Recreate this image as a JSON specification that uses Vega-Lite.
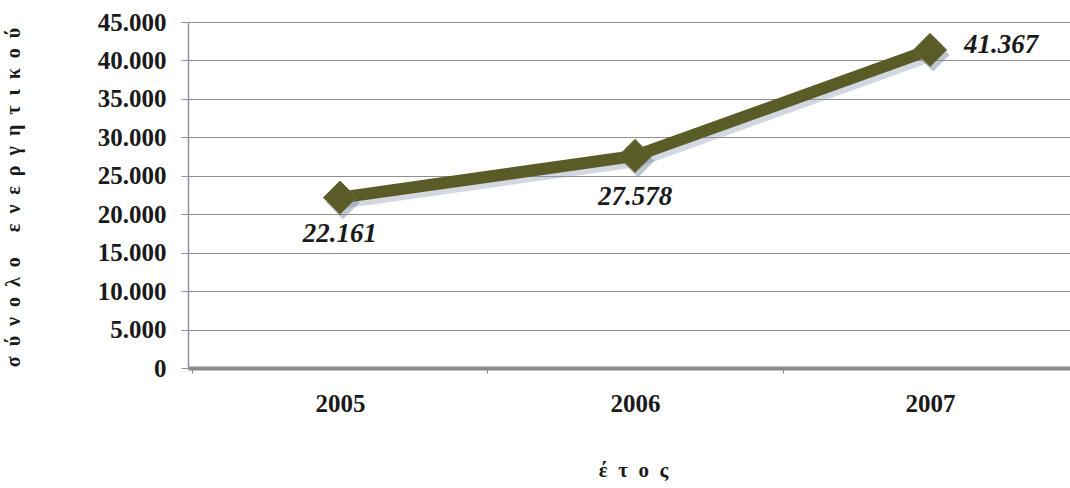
{
  "$schema": "https://vega.github.io/schema/vega-lite/v6.json",
  "autosize": {"type": "none"},
  "width": 894,
  "height": 346,
  "padding": {"left": 188, "top": 22, "right": 0, "bottom": 120},
  "background": "#ffffff",
  "config": {
    "locale": {"number": {"decimal": ",", "thousands": ".", "grouping": [3], "currency": ["", ""]}},
    "view": {"stroke": null},
    "font": "Liberation Serif"
  },
  "data": {"values": [
    {"year": "2005", "value": 22161},
    {"year": "2006", "value": 27578},
    {"year": "2007", "value": 41367}
  ]},
  "encoding": {
    "x": {"field": "year", "type": "ordinal", "scale": {"type": "band", "paddingInner": 0, "paddingOuter": 0.015},
      "axis": {"title": "έ\u00a0\u00a0τ\u00a0\u00a0ο\u00a0\u00a0ς", "titleFont": "Liberation Serif", "titleFontSize": 21, "titleFontWeight": "bold", "titleColor": "#1a1a1a", "titleX": 445, "titleY": 91, "titleBaseline": "top",
        "labelAngle": 0, "labelFont": "Liberation Serif", "labelFontSize": 25, "labelFontWeight": "bold", "labelColor": "#1a1a1a", "labelPadding": 18,
        "domainColor": "#8a8a8a", "domainWidth": 4, "tickBand": "extent", "tickColor": "#888", "tickSize": 5, "grid": false}},
    "y": {"field": "value", "type": "quantitative", "scale": {"domain": [0, 45000]},
      "axis": {"title": "σ\u00a0\u00a0ύ\u00a0\u00a0ν\u00a0\u00a0ο\u00a0\u00a0λ\u00a0\u00a0ο\u00a0\u00a0\u00a0\u00a0\u00a0ε\u00a0\u00a0ν\u00a0\u00a0ε\u00a0\u00a0ρ\u00a0\u00a0γ\u00a0\u00a0η\u00a0\u00a0τ\u00a0\u00a0ι\u00a0\u00a0κ\u00a0\u00a0ο\u00a0\u00a0ύ", "titleFont": "Liberation Serif", "titleFontSize": 20, "titleFontWeight": "bold", "titleColor": "#1a1a1a", "titleX": -165, "titleY": 175, "titleAngle": -90, "titleBaseline": "bottom", "titleAlign": "center",
        "values": [0, 5000, 10000, 15000, 20000, 25000, 30000, 35000, 40000, 45000], "format": ",.0f",
        "labelFont": "Liberation Serif", "labelFontSize": 25, "labelFontWeight": "bold", "labelColor": "#1a1a1a", "labelPadding": 15,
        "domainColor": "#8a93a0", "domainWidth": 1.5, "tickColor": "#8a93a0", "tickSize": 7,
        "grid": true, "gridColor": "#8f8f8f", "gridWidth": 1}}
  },
  "layer": [
    {"mark": {"type": "line", "color": "#8e9cb3", "strokeWidth": 12, "opacity": 0.4, "xOffset": 3, "yOffset": 5}},
    {"mark": {"type": "point", "shape": "diamond", "filled": true, "size": 1100, "color": "#7f8ea8", "opacity": 0.5, "xOffset": 3, "yOffset": 5}},
    {"mark": {"type": "line", "color": "#5a5c28", "strokeWidth": 12}},
    {"mark": {"type": "point", "shape": "diamond", "filled": true, "size": 1100, "color": "#5a5c28", "opacity": 1, "stroke": "#6b6d33", "strokeWidth": 1}},
    {"transform": [{"filter": "datum.year == '2005'"}],
     "mark": {"type": "text", "font": "Liberation Serif", "fontSize": 27, "fontWeight": "bold", "fontStyle": "italic", "color": "#1a1a1a", "dy": 36},
     "encoding": {"text": {"field": "value", "type": "quantitative", "format": ",.0f"}}},
    {"transform": [{"filter": "datum.year == '2006'"}],
     "mark": {"type": "text", "font": "Liberation Serif", "fontSize": 27, "fontWeight": "bold", "fontStyle": "italic", "color": "#1a1a1a", "dy": 41},
     "encoding": {"text": {"field": "value", "type": "quantitative", "format": ",.0f"}}},
    {"transform": [{"filter": "datum.year == '2007'"}],
     "mark": {"type": "text", "font": "Liberation Serif", "fontSize": 27, "fontWeight": "bold", "fontStyle": "italic", "color": "#1a1a1a", "align": "left", "dx": 34, "dy": -5},
     "encoding": {"text": {"field": "value", "type": "quantitative", "format": ",.0f"}}}
  ]
}
